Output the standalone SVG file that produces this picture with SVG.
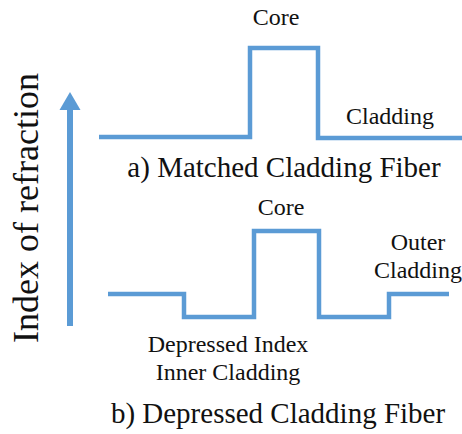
<svg xmlns="http://www.w3.org/2000/svg" width="462" height="434" viewBox="0 0 462 434">
  <style>
    .profile { fill: none; stroke: #5B9BD5; stroke-width: 4.5; stroke-linejoin: miter; stroke-linecap: butt; }
    text { fill: #111; text-anchor: middle; font-family: Liberation Serif, Times New Roman, Times, Tinos, Noto Serif, Nimbus Roman, FreeSerif, DejaVu Serif, serif; }
    .lbl { font-size: 24px; }
    .cap { font-size: 29px; }
    .axis { font-size: 36px; }
  </style>
  <rect width="462" height="434" fill="#ffffff"/>

  <!-- vertical axis: refractive index increases upward -->
  <g id="axis">
    <rect x="67" y="108" width="6" height="218" fill="#5B9BD5"/>
    <polygon points="70,92 80.5,110 59.5,110" fill="#5B9BD5"/>
    <text class="axis" transform="translate(38,208) rotate(-90)">Index of refraction</text>
  </g>

  <!-- a) matched cladding step-index profile -->
  <g id="matched">
    <path class="profile" d="M99,137 H250 V48 H318 V138 H462"/>
    <text class="lbl" x="276" y="25">Core</text>
    <text class="lbl" x="390" y="124">Cladding</text>
    <text class="cap" x="284" y="177">a) Matched Cladding Fiber</text>
  </g>

  <!-- b) depressed cladding profile -->
  <g id="depressed">
    <path class="profile" d="M108,294 H184 V317 H254 V231 H319 V317 H389 V294 H449"/>
    <text class="lbl" x="281" y="215">Core</text>
    <text class="lbl" x="418" y="250">Outer</text>
    <text class="lbl" x="418" y="278">Cladding</text>
    <text class="lbl" x="228" y="352">Depressed Index</text>
    <text class="lbl" x="228" y="380">Inner Cladding</text>
    <text class="cap" x="278" y="423">b) Depressed Cladding Fiber</text>
  </g>
</svg>
